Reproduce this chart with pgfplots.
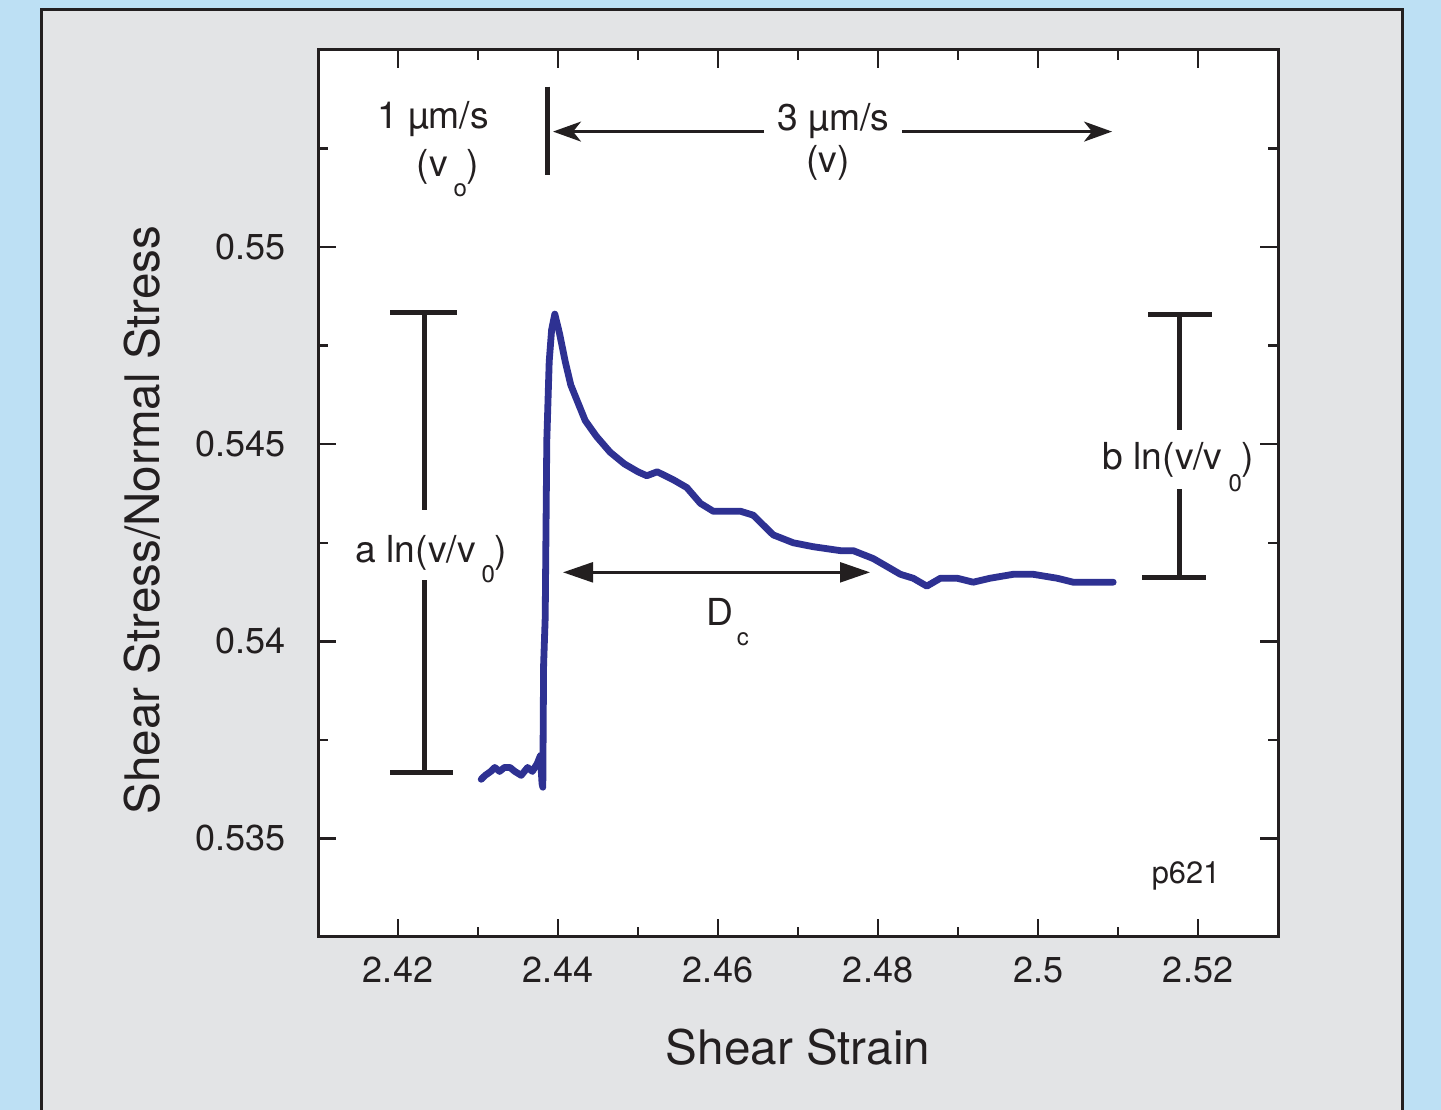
\documentclass[border=0pt]{standalone}
\usepackage{fontspec}
\setmainfont{TeX Gyre Heros}
\usepackage{pgfplots}
\usepackage{pgfplotstable}
\pgfplotsset{compat=1.18}
\usetikzlibrary{arrows.meta}
\definecolor{bgblue}{RGB}{189,224,244}
\definecolor{panelgray}{RGB}{227,228,230}
\definecolor{ink}{RGB}{35,31,32}
\definecolor{dataBlue}{RGB}{46,49,146}

\pgfplotstableread{
x y
2.4304 0.5365
2.4309 0.5366
2.4316 0.5367
2.4321 0.5368
2.4327 0.5367
2.4333 0.5368
2.4340 0.5368
2.4346 0.5367
2.4354 0.5366
2.4362 0.5368
2.4368 0.5367
2.4374 0.5369
2.4378 0.5371
2.4380 0.5364
2.4381 0.5363
2.4382 0.5394
2.4384 0.5406
2.4386 0.5451
2.4389 0.5471
2.4392 0.5479
2.4396 0.5483
2.4402 0.5478
2.4409 0.5471
2.4416 0.5465
2.4424 0.5461
2.4434 0.5456
2.4448 0.5452
2.4465 0.5448
2.4483 0.5445
2.4500 0.5443
2.4511 0.5442
2.4524 0.5443
2.4544 0.5441
2.4561 0.5439
2.4578 0.5435
2.4594 0.5433
2.4628 0.5433
2.4644 0.5432
2.4669 0.5427
2.4694 0.5425
2.4719 0.5424
2.4753 0.5423
2.4769 0.5423
2.4794 0.5421
2.4811 0.5419
2.4828 0.5417
2.4844 0.5416
2.4861 0.5414
2.4878 0.5416
2.4899 0.5416
2.4919 0.5415
2.4940 0.5416
2.4969 0.5417
2.4994 0.5417
2.5024 0.5416
2.5044 0.5415
2.5094 0.5415
}\datatable

\newcommand\annf{\fontsize{9.3}{11}\selectfont}
\newcommand\subf{\fontsize{6}{7}\selectfont}

\begin{document}
\begin{tikzpicture}
\useasboundingbox (0,0) rectangle (360.25pt,277.5pt);
\clip (0,0) rectangle (360.25pt,277.5pt);
\fill[bgblue] (0,0) rectangle (360.25pt,277.5pt);
\filldraw[fill=panelgray, draw=ink, line width=0.75pt] (10.375pt,-5pt) rectangle (350.625pt,275pt);
\begin{axis}[
  at={(79.5pt,43.25pt)}, anchor=south west,
  scale only axis, width=240pt, height=221.75pt,
  xmin=2.41, xmax=2.53, ymin=0.5325, ymax=0.555,
  axis background/.style={fill=white},
  axis line style={ink, line width=0.75pt},
  xtick={2.42,2.44,2.46,2.48,2.5,2.52},
  xticklabels={2.42,2.44,2.46,2.48,2.5,2.52},
  minor xtick={2.43,2.45,2.47,2.49,2.51},
  ytick={0.535,0.54,0.545,0.55},
  yticklabels={0.535,0.54,0.545,0.55},
  minor ytick={0.5375,0.5425,0.5475,0.5525},
  tick align=inside,
  major tick length=4.5pt, minor tick length=2.5pt,
  every tick/.style={ink, line width=0.6pt},
  ticklabel style={font=\fontsize{9}{10}\selectfont, text=ink},
  xticklabel style={yshift=-1.5pt},
  yticklabel style={xshift=-4.5pt},
  scaled ticks=false,
  /pgf/number format/assume math mode=true,
  clip=false,
  xlabel={Shear Strain},
  xlabel style={at={(axis description cs:0.5,-0.1443)}, anchor=base, font=\fontsize{11.9}{14}\selectfont, text=ink},
  ylabel={Shear Stress/Normal Stress},
  ylabel style={at={(axis description cs:-0.1646,0.4701)}, anchor=base, rotate=0, font=\fontsize{11.9}{14}\selectfont, text=ink},
]
\addplot[dataBlue, line width=1.7pt, line join=round, line cap=round] table[x=x,y=y]{\datatable};

% velocity step marker
\draw[ink, line width=1.25pt] (axis cs:2.43869,0.55407) -- (axis cs:2.43869,0.55183);
\draw[ink, line width=0.6pt, -{Stealth[length=7pt,width=5pt,inset=2pt]}] (axis cs:2.46575,0.55293) -- (axis cs:2.43938,0.55293);
\draw[ink, line width=0.6pt, -{Stealth[length=7pt,width=5pt,inset=2pt]}] (axis cs:2.4830,0.55293) -- (axis cs:2.50925,0.55293);

% Dc arrow
\draw[ink, line width=0.6pt, {Triangle[length=7.5pt,width=5pt]}-{Triangle[length=7.5pt,width=5pt]}] (axis cs:2.44063,0.54175) -- (axis cs:2.479,0.54175);

% left bar
\draw[ink, line width=1.25pt] (axis cs:2.42325,0.54834) -- (axis cs:2.42325,0.54333);
\draw[ink, line width=1.25pt] (axis cs:2.42325,0.54155) -- (axis cs:2.42325,0.53668);
\draw[ink, line width=1.25pt] (axis cs:2.419,0.54834) -- (axis cs:2.42738,0.54834);
\draw[ink, line width=1.25pt] (axis cs:2.419,0.53668) -- (axis cs:2.42688,0.53668);

% right bar
\draw[ink, line width=1.25pt] (axis cs:2.51763,0.54829) -- (axis cs:2.51763,0.54537);
\draw[ink, line width=1.25pt] (axis cs:2.51763,0.54386) -- (axis cs:2.51763,0.54162);
\draw[ink, line width=1.25pt] (axis cs:2.51375,0.54829) -- (axis cs:2.52175,0.54829);
\draw[ink, line width=1.25pt] (axis cs:2.513,0.54162) -- (axis cs:2.521,0.54162);

% texts
\node[anchor=base, text=ink, font=\annf, inner sep=0pt] at (axis cs:2.42438,0.55301) {1 µm/s};
\node[anchor=base, text=ink, font=\annf, inner sep=0pt] at (axis cs:2.42625,0.55178) {(v\kern1.5pt\raisebox{-5pt}{\subf o})};
\node[anchor=base, text=ink, font=\annf, inner sep=0pt] at (axis cs:2.47444,0.55295) {3 µm/s};
\node[anchor=base, text=ink, font=\annf, inner sep=0pt] at (axis cs:2.47375,0.55190) {(v)};
\node[anchor=base, text=ink, font=\annf, inner sep=0pt] at (axis cs:2.42419,0.54200) {a ln(v/v\kern1.5pt\raisebox{-5pt}{\subf 0})};
\node[anchor=base, text=ink, font=\annf, inner sep=0pt] at (axis cs:2.51756,0.54435) {b ln(v/v\kern1.5pt\raisebox{-5.5pt}{\subf 0})};
\node[anchor=base, text=ink, font=\annf, inner sep=0pt] at (axis cs:2.46119,0.54040) {D\kern1pt\raisebox{-5pt}{\subf c}};
\node[anchor=base, text=ink, font=\fontsize{7.7}{9}\selectfont, inner sep=0pt] at (axis cs:2.5185,0.53385) {p621};
\end{axis}
\end{tikzpicture}
\end{document}
